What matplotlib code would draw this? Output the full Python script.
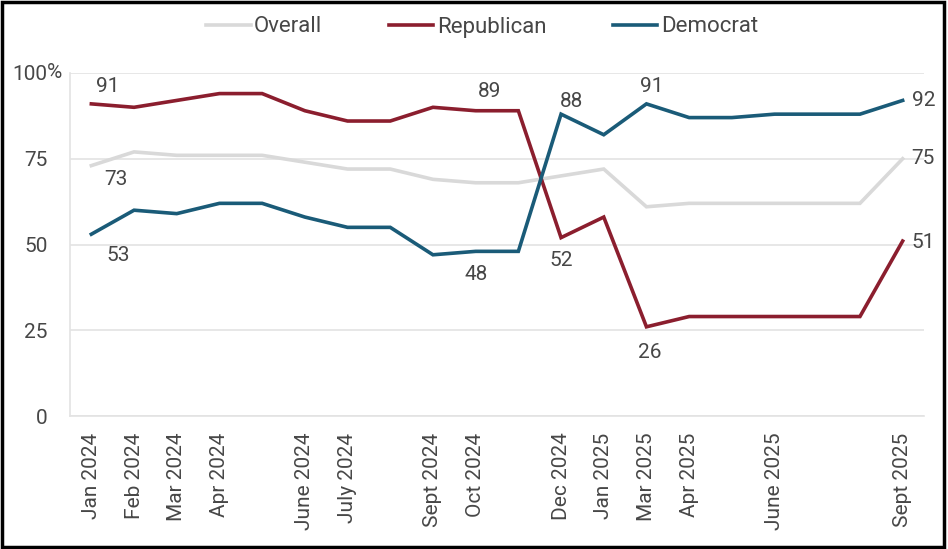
import matplotlib
matplotlib.use('Agg')
import matplotlib.pyplot as plt
from matplotlib.patches import Rectangle

plt.rcParams['font.family'] = ['Roboto', 'DejaVu Sans']

# survey waves (blank labels = waves with no tick label)
months = ['Jan 2024', 'Feb 2024', 'Mar 2024', 'Apr 2024', '', 'June 2024',
          'July 2024', '', 'Sept 2024', 'Oct 2024', '', 'Dec 2024',
          'Jan 2025', 'Mar 2025', 'Apr 2025', '', 'June 2025', '', '',
          'Sept 2025']
overall = [73, 77, 76, 76, 76, 74, 72, 72, 69, 68, 68, 70, 72, 61, 62, 62,
           62, 62, 62, 75]
republican = [91, 90, 92, 94, 94, 89, 86, 86, 90, 89, 89, 52, 58, 26, 29, 29,
              29, 29, 29, 51]
democrat = [53, 60, 59, 62, 62, 58, 55, 55, 47, 48, 48, 88, 82, 91, 87, 87,
            88, 88, 88, 92]
y_ticks = [0, 25, 50, 75, 100]

GRAY = '#D9D9D9'
RED = '#8B1E2E'
BLUE = '#1A5B78'
TEXT = '#474747'

fig = plt.figure(figsize=(9.48, 5.49), dpi=100)
ax = fig.add_axes([70 / 948, 1 - 416 / 549, 854 / 948, 343 / 549])

x = list(range(len(months)))
ax.plot(x, overall, color=GRAY, lw=2.6, label='Overall', solid_joinstyle='miter')
ax.plot(x, republican, color=RED, lw=2.6, label='Republican', solid_joinstyle='miter')
ax.plot(x, democrat, color=BLUE, lw=2.6, label='Democrat', solid_joinstyle='miter')

ax.set_xlim(-0.5, len(months) - 0.5)
ax.set_ylim(0, 100)
ax.set_yticks(y_ticks)
ax.set_yticklabels([str(v) for v in y_ticks])
ax.set_xticks(x)
ax.set_xticklabels(months, rotation=90)
ax.tick_params(axis='y', length=0, pad=16, labelsize=15, labelcolor=TEXT)
ax.tick_params(axis='x', length=0, pad=12, labelsize=15, labelcolor=TEXT)
for lab in ax.get_xticklabels():
    lab.set_va('top')
ax.text(-23 / 854, 100, '%', transform=ax.get_yaxis_transform(),
        ha='left', va='center', fontsize=15, color=TEXT)

ax.grid(axis='y', color='#E3E3E3', lw=1.2)
ax.set_axisbelow(True)
for side in ['top', 'right']:
    ax.spines[side].set_visible(False)
ax.spines['left'].set_color('#E3E3E3')
ax.spines['bottom'].set_color('#E3E3E3')
ax.spines['left'].set_linewidth(1.2)
ax.spines['bottom'].set_linewidth(1.2)

# data labels: (series, index, dx px, dy px, ha)
series = {'o': overall, 'r': republican, 'd': democrat}
labels = [('r', 0, 16, 17, 'center'), ('o', 0, 25, -14, 'center'),
          ('d', 0, 27, -21, 'center'), ('r', 9, 14, 19, 'center'),
          ('d', 9, 0, -23, 'center'), ('d', 11, 10, 13, 'center'),
          ('r', 11, 0, -23, 'center'), ('d', 13, 5, 17, 'center'),
          ('r', 13, 3, -26, 'center'), ('d', 19, 9, 0, 'left'),
          ('o', 19, 9, 0, 'left'), ('r', 19, 9, -1, 'left')]
for key, i, dx, dy, ha in labels:
    v = series[key][i]
    ax.annotate(str(v), (i, v), xytext=(dx, dy), textcoords='offset pixels',
                ha=ha, va='center', fontsize=15, color=TEXT)

fig.legend(loc='center', bbox_to_anchor=(0.5 + 8 / 948, 1 - 27 / 549), ncol=3,
           frameon=False, fontsize=16, handlelength=2.0, handletextpad=0.15,
           columnspacing=3.0, labelcolor=TEXT)

fig.patches.append(Rectangle((0.002, 0.003), 0.994, 0.993,
                             transform=fig.transFigure, fill=False,
                             edgecolor='black', lw=2.5))

fig.savefig('out.png', dpi=100)
